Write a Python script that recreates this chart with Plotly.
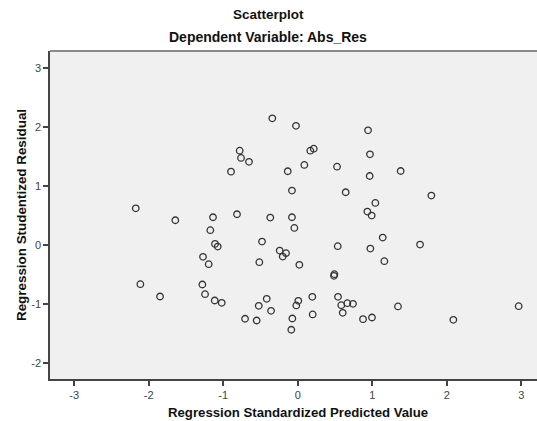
import plotly.graph_objects as go

predicted = [-0.341, -0.023, -0.779, -0.761, -0.654, -0.895, -0.134, -0.077, -2.174, -1.643,
             -1.137, -0.815, -0.368, -0.077, -0.045, -1.173, -1.110, -1.074, -0.479, 0.944,
             0.169, 0.215, 0.970, 0.089, 0.528, 0.966, 1.382, 0.644, 1.794, 1.042,
             0.935, 0.993, 1.141, 1.642, 0.537, 0.975, -0.242, -0.157, -0.201, -1.271,
             -1.195, -0.515, 0.022, -2.112, -1.848, -1.280, -1.244, -1.114, -1.020, -0.416,
             -0.523, -0.358, -0.707, -0.551, -0.072, -0.086, 1.163, 0.492, 0.487, 0.008,
             -0.019, 0.196, 0.201, 0.541, 0.585, 0.666, 0.742, 0.604, 0.877, 0.997,
             1.346, 2.089, 2.966]
residual = [2.147, 2.020, 1.598, 1.475, 1.410, 1.243, 1.249, 0.921, 0.621, 0.418,
            0.469, 0.520, 0.463, 0.469, 0.288, 0.249, 0.017, -0.028, 0.056, 1.944,
            1.598, 1.632, 1.537, 1.356, 1.327, 1.169, 1.254, 0.893, 0.836, 0.712,
            0.565, 0.497, 0.124, 0.005, -0.022, -0.062, -0.096, -0.141, -0.198, -0.203,
            -0.327, -0.294, -0.339, -0.667, -0.876, -0.672, -0.836, -0.944, -0.983, -0.915,
            -1.034, -1.119, -1.254, -1.283, -1.249, -1.440, -0.277, -0.497, -0.525, -0.949,
            -1.028, -0.881, -1.181, -0.881, -1.023, -0.989, -1.000, -1.153, -1.260, -1.232,
            -1.045, -1.271, -1.040]

x_ticks = [-3, -2, -1, 0, 1, 2, 3]
y_ticks = [-2, -1, 0, 1, 2, 3]

FONT = "Arial, Liberation Sans, sans-serif"
W, H = 537, 421
ML, MR, MT, MB = 50, 0, 51, 42

fig = go.Figure(go.Scatter(
    x=predicted, y=residual, mode="markers",
    marker=dict(symbol="circle-open", size=6.5, color="#333333", line=dict(width=1.3, color="#333333")),
    hoverinfo="x+y",
))

plot_h = H - MT - MB
plot_w = W - ML - MR


def py(ypix):
    return (H - MB - ypix) / plot_h


def px(xpix):
    return (xpix - ML) / plot_w


fig.update_layout(
    width=W, height=H,
    margin=dict(l=ML, r=MR, t=MT, b=MB, autoexpand=False),
    paper_bgcolor="white", plot_bgcolor="#f0f0f0",
    showlegend=False,
    font=dict(family=FONT, color="#222222"),
    annotations=[
        dict(text="<b>Scatterplot</b>", x=px(268), xref="paper", y=py(15), yref="paper",
             xanchor="center", yanchor="middle",
             showarrow=False, font=dict(size=13.5, color="#111111")),
        dict(text="<b>Dependent Variable: Abs_Res</b>", x=px(268), xref="paper", y=py(37), yref="paper",
             xanchor="center", yanchor="middle",
             showarrow=False, font=dict(size=14, color="#111111")),
        dict(text="<b>Regression Standardized Predicted Value</b>", x=px(298), xref="paper",
             y=py(412), yref="paper", xanchor="center", yanchor="middle",
             showarrow=False, font=dict(size=13.2, color="#111111")),
        dict(text="<b>Regression Studentized Residual</b>", x=px(21), xref="paper",
             y=py(215), yref="paper", xanchor="center", yanchor="middle", textangle=-90,
             showarrow=False, font=dict(size=13.4, color="#111111")),
    ],
    shapes=[dict(type="line", xref="paper", yref="paper", x0=0, x1=1, y0=1, y1=1,
                 line=dict(color="#8a8a8a", width=2))],
)

fig.update_xaxes(
    range=[-3.325, 3.212], tickvals=x_ticks, ticktext=[str(t) for t in x_ticks],
    showgrid=False, zeroline=False, showline=True, linecolor="#444444", linewidth=1.5,
    ticks="outside", ticklen=5, tickcolor="#444444", tickwidth=1.5,
    tickfont=dict(size=11, color="#444444", family=FONT), automargin=False,
)
fig.update_yaxes(
    range=[-2.276, 3.29], tickvals=y_ticks, ticktext=[str(t) for t in y_ticks],
    showgrid=False, zeroline=False, showline=True, linecolor="#444444", linewidth=1.5,
    ticks="outside", ticklen=5, tickcolor="#444444", tickwidth=1.5,
    tickfont=dict(size=11, color="#444444", family=FONT), automargin=False,
)

fig.write_html("out.html", config={"displayModeBar": False},
               post_script="document.body.style.margin='0px';")
